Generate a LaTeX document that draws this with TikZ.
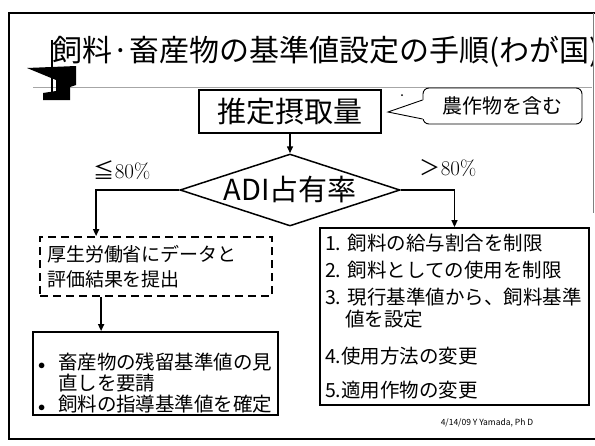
\documentclass[tikz,border=0pt]{standalone}
\usepackage{fontspec}
\newfontfamily\jpfont{Noto Sans CJK JP}
\usepackage{tikz}
\usetikzlibrary{arrows.meta}
\usetikzlibrary{shapes.geometric}

\begin{document}
\begin{tikzpicture}[x=1pt, y=-1pt, >={Triangle[length=7pt, width=6pt]},
    box/.style={draw, line width=1.8pt, inner ysep=0pt},
    dashbox/.style={draw, line width=1.8pt, dash pattern=on 8pt off 5pt, inner ysep=0pt},
    jp/.style={font=\jpfont\fontsize{#1}{#1}\selectfont}]
    \useasboundingbox (0,0) rectangle (595,445);
    \draw[line width=1.8pt] (595,13) -- (9,13) -- (9,439) -- (595,439);
    \draw[gray, line width=0.8pt] (593,13) -- (593,213);
    \draw[gray!70, line width=0.6pt] (33,87) -- (592,87);
    \fill (27,68) -- (76,66) -- (76,85) -- (70,87) -- (70,100) -- (43,100) -- (43,93) -- (56,91) -- (56,80) -- cycle;
    \draw[line width=1.5pt] (52,40) -- (52,100);
    \begin{scope}
      \clip (0,0) rectangle (592,445);
      \node[jp=30, anchor=base west, inner sep=0pt] (title) at (52,61){飼料·畜産物の基準値設定の手順(わが国)};
    \end{scope}
    \node[box, jp=29, minimum width=182pt, minimum height=43pt] (intake) at (290,111.5){推定摂取量};
    \node[draw, line width=0.9pt, rounded corners=6pt, jp=20, minimum width=159pt, minimum height=36pt] (note) at (502.5,106){農作物を含む};
    \coordinate (tip) at (388,112);
    \fill[white] ([xshift=1.5pt, yshift=6pt]note.west) -- (tip) -- ([xshift=1.5pt, yshift=-13pt]note.west) -- cycle;
    \draw[line width=0.9pt] ([yshift=6pt]note.west) -- (tip) -- ([yshift=-13pt]note.west);
    \fill (402,95) circle (1);
    \node[diamond, draw, line width=1.5pt, aspect=3.05, minimum width=220pt, minimum height=72pt, inner sep=0pt, jp=29] (adi) at (290,190){ADI占有率};
    \draw[->, line width=1.5pt] (intake)--(adi);
    \node[font=\fontsize{21}{21}\selectfont] (low) at (122,170){{\jpfont ≦}80\%};
    \node[font=\fontsize{21}{21}\selectfont] (high) at (448,168){{\jpfont ＞}80\%};
    \node[dashbox, jp=19, inner xsep=7pt, text width=218pt, align=left, minimum height=59pt] (report) at (156,266.5){厚生労働省にデータと\\[6pt]評価結果を提出};
    \node[box, jp=19.5, inner xsep=5pt, text width=235pt, align=left, minimum height=83pt] (review) at (155.5,373.5){%
      \rule{0pt}{35pt}\makebox[20pt][l]{$\scriptstyle\bullet$}畜産物の残留基準値の見\\[2pt]
      \hspace*{20pt}直しを要請\\[1pt]
      \makebox[20pt][l]{$\scriptstyle\bullet$}飼料の指導基準値を確定};
    \node[box, jp=19.5, inner xsep=5pt, text width=259pt, align=left, minimum height=177pt] (measures) at (454.5,316.5){%
      1.~飼料の給与割合を制限\\[7pt]
      2.~飼料としての使用を制限\\[8pt]
      \mbox{3.~現行基準値から、飼料基準}\\[2pt]
      \hspace*{20pt}値を設定\\[18pt]
      4.使用方法の変更\\[14pt]
      5.適用作物の変更};
    \draw[->, line width=1.5pt] (adi.west) -| ([xshift=57pt]report.north west);
    \draw[->, line width=1.5pt] (adi.east) -| (measures.north);
    \draw[->, line width=1.5pt] ([xshift=62pt]report.south west) -- ([xshift=62pt]report.south west |- review.north);
    \node[jp=8.5] (credit) at (487,423){4/14/09 Y Yamada, Ph D};
  \end{tikzpicture}
\end{document}
